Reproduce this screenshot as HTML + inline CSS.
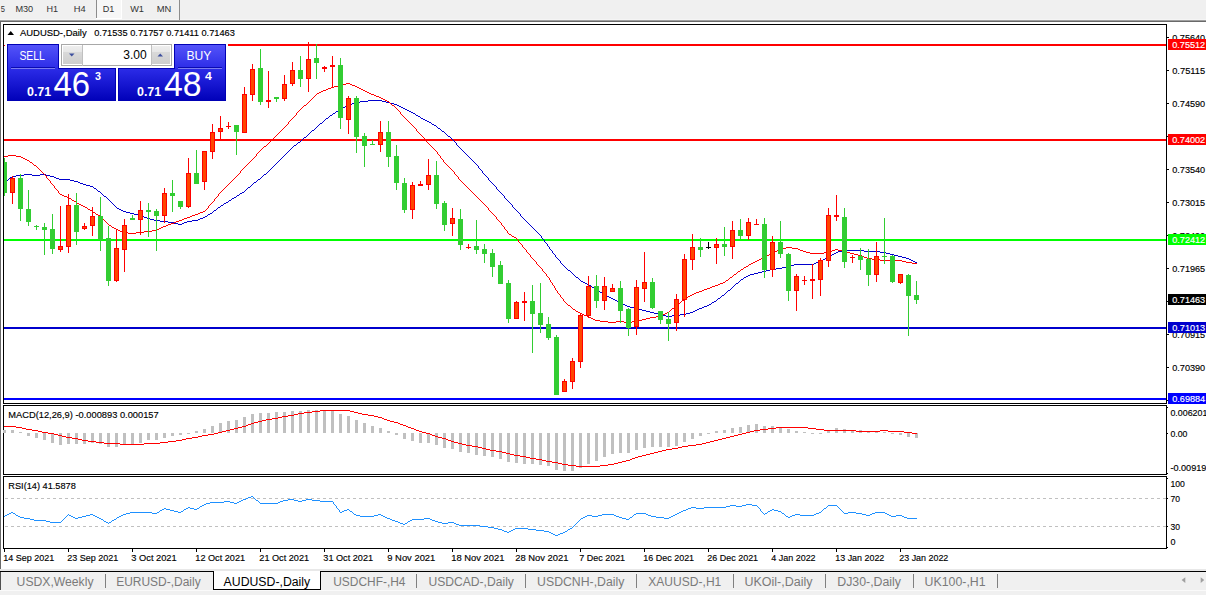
<!DOCTYPE html>
<html><head><meta charset="utf-8"><title>AUDUSD-,Daily</title>
<style>html,body{margin:0;padding:0;background:#fff;overflow:hidden}body{width:1206px;height:595px;font-family:"Liberation Sans",sans-serif}svg text{font-family:"Liberation Sans",sans-serif}</style></head>
<body>
<svg width="1206" height="595" viewBox="0 0 1206 595" font-family="'Liberation Sans', sans-serif" style="display:block"><rect x="0" y="0" width="1206" height="595" fill="#fff"/>
<rect x="0" y="0" width="1206" height="19" fill="#f0f0f0"/>
<rect x="0" y="19" width="1206" height="1" fill="#f5f5f5"/>
<rect x="0" y="20" width="1206" height="1" fill="#a0a0a0"/>
<rect x="0" y="21" width="1206" height="1" fill="#696969"/>
<rect x="0" y="21" width="1" height="548" fill="#696969"/>
<rect x="96" y="0" width="1" height="18" fill="#8c8c8c"/>
<rect x="97" y="0" width="24" height="18" fill="#f7f7f7"/>
<rect x="96" y="18" width="26" height="1" fill="#fff"/>
<rect x="121" y="0" width="1" height="18" fill="#fff"/>
<rect x="179" y="0" width="1" height="20" fill="#8c8c8c"/>
<text x="0.8" y="12" font-size="9.4" fill="#333" textLength="4.2" lengthAdjust="spacingAndGlyphs">5</text>
<text x="15.4" y="12" font-size="9.4" fill="#333" textLength="17.8" lengthAdjust="spacingAndGlyphs">M30</text>
<text x="46.4" y="12" font-size="9.4" fill="#333" textLength="11.6" lengthAdjust="spacingAndGlyphs">H1</text>
<text x="73.8" y="12" font-size="9.4" fill="#333" textLength="11.9" lengthAdjust="spacingAndGlyphs">H4</text>
<text x="102.8" y="12" font-size="9.4" fill="#333" textLength="11.6" lengthAdjust="spacingAndGlyphs">D1</text>
<text x="130.2" y="12" font-size="9.4" fill="#333" textLength="13.8" lengthAdjust="spacingAndGlyphs">W1</text>
<text x="156.7" y="12" font-size="9.4" fill="#333" textLength="14.6" lengthAdjust="spacingAndGlyphs">MN</text>
<defs><clipPath id="cc"><rect x="4" y="25" width="1162" height="378"/></clipPath></defs>
<g shape-rendering="crispEdges">
<rect x="4" y="44" width="1162" height="2" fill="#ff0000"/>
<rect x="4" y="139" width="1162" height="2" fill="#ff0000"/>
<rect x="4" y="239" width="1162" height="2" fill="#00ff00"/>
<rect x="4" y="327" width="1162" height="2" fill="#0000cd"/>
<rect x="4" y="398" width="1162" height="2" fill="#0000ff"/>
</g>
<path d="M4 182h1v1h-1zM5 181h1v1h-1zM6 180h2v1h-2zM8 179h1v1h-1zM9 178h1v1h-1zM10 177h2v1h-2zM12 176h4v1h-4zM16 175h8v1h-8zM24 174h8v1h-8zM32 175h8v1h-8zM40 174h6v1h-6zM46 175h4v1h-4zM50 176h4v1h-4zM54 177h2v1h-2zM56 178h3v1h-3zM59 179h11v1h-11zM70 180h4v1h-4zM74 181h4v1h-4zM78 182h2v1h-2zM80 183h3v1h-3zM83 184h3v1h-3zM86 185h4v1h-4zM90 186h3v1h-3zM93 187h1v1h-1zM94 188h2v1h-2zM96 189h1v1h-1zM97 190h1v1h-1zM98 191h2v1h-2zM100 192h1v1h-1zM101 193h1v1h-1zM102 194h1v1h-1zM103 195h1v1h-1zM104 196h2v1h-2zM106 197h1v1h-1zM107 198h1v1h-1zM108 199h1v1h-1zM109 200h1v1h-1zM110 201h1v1h-1zM111 202h1v1h-1zM112 203h1v1h-1zM113 204h1v1h-1zM114 205h1v1h-1zM115 206h1v1h-1zM116 207h1v1h-1zM117 208h2v1h-2zM119 209h2v1h-2zM121 210h2v1h-2zM123 211h3v1h-3zM126 212h4v1h-4zM130 213h4v1h-4zM134 214h4v1h-4zM138 215h4v1h-4zM142 216h2v1h-2zM144 217h3v1h-3zM147 218h3v1h-3zM150 219h4v1h-4zM154 220h6v1h-6zM160 221h8v1h-8zM168 222h6v1h-6zM174 223h4v1h-4zM178 224h4v1h-4zM182 223h2v1h-2zM184 222h3v1h-3zM187 221h5v1h-5zM192 220h6v1h-6zM198 219h2v1h-2zM200 218h3v1h-3zM203 217h2v1h-2zM205 216h2v1h-2zM207 215h1v1h-1zM208 214h2v1h-2zM210 213h2v1h-2zM212 212h1v1h-1zM213 211h1v1h-1zM214 210h2v1h-2zM216 209h1v1h-1zM217 208h1v1h-1zM218 207h2v1h-2zM220 206h1v1h-1zM221 205h2v1h-2zM223 204h1v1h-1zM224 203h2v1h-2zM226 202h2v1h-2zM228 201h1v1h-1zM229 200h2v1h-2zM231 199h1v1h-1zM232 198h2v1h-2zM234 197h2v1h-2zM236 196h1v1h-1zM237 195h2v1h-2zM239 194h1v1h-1zM240 193h2v1h-2zM242 192h2v1h-2zM244 191h1v1h-1zM245 190h1v1h-1zM246 189h1v1h-1zM247 188h1v1h-1zM248 187h2v1h-2zM250 186h1v1h-1zM251 185h1v1h-1zM252 184h1v1h-1zM253 183h1v1h-1zM254 182h2v1h-2zM256 181h1v1h-1zM257 180h1v1h-1zM258 179h2v1h-2zM260 178h1v1h-1zM261 177h1v1h-1zM262 176h1v1h-1zM263 175h1v1h-1zM264 174h2v1h-2zM266 173h1v1h-1zM267 172h1v1h-1zM268 171h1v1h-1zM269 170h1v1h-1zM270 169h1v1h-1zM271 168h1v1h-1zM272 167h1v1h-1zM273 166h1v1h-1zM274 165h1v1h-1zM275 164h1v1h-1zM276 163h1v1h-1zM277 162h1v1h-1zM278 161h1v1h-1zM279 160h1v1h-1zM280 159h1v1h-1zM281 158h1v1h-1zM282 157h1v1h-1zM283 156h1v1h-1zM284 155h1v1h-1zM285 154h1v1h-1zM286 153h1v1h-1zM287 152h1v1h-1zM288 151h1v1h-1zM289 150h1v1h-1zM290 149h1v1h-1zM291 148h1v1h-1zM292 147h1v1h-1zM293 146h1v1h-1zM294 145h2v1h-2zM296 144h1v1h-1zM297 143h1v1h-1zM298 142h2v1h-2zM300 141h1v1h-1zM301 140h1v1h-1zM302 139h1v1h-1zM303 138h1v1h-1zM304 137h2v1h-2zM306 136h1v1h-1zM307 135h1v1h-1zM308 134h1v1h-1zM309 133h1v1h-1zM310 132h1v1h-1zM311 131h1v1h-1zM312 130h2v1h-2zM314 129h1v1h-1zM315 128h1v1h-1zM316 127h1v1h-1zM317 126h1v1h-1zM318 125h1v1h-1zM319 124h1v1h-1zM320 123h2v1h-2zM322 122h1v1h-1zM323 121h1v1h-1zM324 120h1v1h-1zM325 119h1v1h-1zM326 118h2v1h-2zM328 117h1v1h-1zM329 116h1v1h-1zM330 115h2v1h-2zM332 114h1v1h-1zM333 113h2v1h-2zM335 112h1v1h-1zM336 111h2v1h-2zM338 110h2v1h-2zM340 109h1v1h-1zM341 108h2v1h-2zM343 107h2v1h-2zM345 106h2v1h-2zM347 105h3v1h-3zM350 104h2v1h-2zM352 103h3v1h-3zM355 102h5v1h-5zM360 101h8v1h-8zM368 100h14v1h-14zM382 101h4v1h-4zM386 102h4v1h-4zM390 103h4v1h-4zM394 104h3v1h-3zM397 105h2v1h-2zM399 106h2v1h-2zM401 107h2v1h-2zM403 108h2v1h-2zM405 109h2v1h-2zM407 110h2v1h-2zM409 111h2v1h-2zM411 112h2v1h-2zM413 113h2v1h-2zM415 114h1v1h-1zM416 115h2v1h-2zM418 116h2v1h-2zM420 117h1v1h-1zM421 118h2v1h-2zM423 119h2v1h-2zM425 120h2v1h-2zM427 121h2v1h-2zM429 122h2v1h-2zM431 123h1v1h-1zM432 124h2v1h-2zM434 125h2v1h-2zM436 126h1v1h-1zM437 127h1v1h-1zM438 128h2v1h-2zM440 129h1v1h-1zM441 130h1v1h-1zM442 131h2v1h-2zM444 132h1v1h-1zM445 133h1v1h-1zM446 134h1v1h-1zM447 135h1v1h-1zM448 136h2v1h-2zM450 137h1v1h-1zM451 138h1v1h-1zM452 139h1v1h-1zM453 140h1v1h-1zM454 141h1v1h-1zM455 142h1v1h-1zM456 143h1v2h-1zM457 145h1v1h-1zM458 146h1v1h-1zM459 147h1v1h-1zM460 148h1v1h-1zM461 149h1v1h-1zM462 150h1v1h-1zM463 151h1v1h-1zM464 152h1v1h-1zM465 153h1v1h-1zM466 154h1v1h-1zM467 155h1v1h-1zM468 156h1v1h-1zM469 157h1v1h-1zM470 158h1v1h-1zM471 159h1v1h-1zM472 160h1v1h-1zM473 161h1v1h-1zM474 162h1v1h-1zM475 163h1v1h-1zM476 164h1v1h-1zM477 165h1v1h-1zM478 166h1v2h-1zM479 168h1v1h-1zM480 169h1v1h-1zM481 170h1v1h-1zM482 171h1v2h-1zM483 173h1v1h-1zM484 174h1v1h-1zM485 175h1v1h-1zM486 176h1v1h-1zM487 177h1v1h-1zM488 178h1v2h-1zM489 180h1v1h-1zM490 181h1v1h-1zM491 182h1v1h-1zM492 183h1v1h-1zM493 184h1v1h-1zM494 185h1v1h-1zM495 186h1v1h-1zM496 187h1v2h-1zM497 189h1v1h-1zM498 190h1v1h-1zM499 191h1v1h-1zM500 192h1v1h-1zM501 193h1v1h-1zM502 194h1v1h-1zM503 195h1v1h-1zM504 196h1v2h-1zM505 198h1v1h-1zM506 199h1v1h-1zM507 200h1v1h-1zM508 201h1v1h-1zM509 202h1v1h-1zM510 203h1v1h-1zM511 204h1v1h-1zM512 205h1v2h-1zM513 207h1v1h-1zM514 208h1v1h-1zM515 209h1v1h-1zM516 210h1v1h-1zM517 211h1v1h-1zM518 212h1v1h-1zM519 213h1v1h-1zM520 214h1v2h-1zM521 216h1v1h-1zM522 217h1v1h-1zM523 218h1v1h-1zM524 219h1v1h-1zM525 220h1v1h-1zM526 221h1v1h-1zM527 222h1v1h-1zM528 223h1v1h-1zM529 224h1v1h-1zM530 225h1v1h-1zM531 226h1v1h-1zM532 227h1v1h-1zM533 228h1v1h-1zM534 229h1v1h-1zM535 230h1v1h-1zM536 231h1v1h-1zM537 232h1v1h-1zM538 233h1v1h-1zM539 234h1v1h-1zM540 235h1v1h-1zM541 236h1v2h-1zM542 238h1v1h-1zM543 239h1v1h-1zM544 240h1v2h-1zM545 242h1v1h-1zM546 243h1v1h-1zM547 244h1v2h-1zM548 246h1v1h-1zM549 247h1v2h-1zM550 249h1v1h-1zM551 250h1v1h-1zM552 251h1v2h-1zM553 253h1v1h-1zM554 254h1v1h-1zM555 255h1v2h-1zM556 257h1v1h-1zM557 258h1v1h-1zM558 259h1v1h-1zM559 260h1v1h-1zM560 261h1v2h-1zM561 263h1v1h-1zM562 264h1v1h-1zM563 265h1v1h-1zM564 266h1v1h-1zM565 267h1v1h-1zM566 268h1v1h-1zM567 269h1v1h-1zM568 270h2v1h-2zM570 271h1v1h-1zM571 272h1v1h-1zM572 273h1v1h-1zM573 274h1v1h-1zM574 275h1v1h-1zM575 276h1v1h-1zM576 277h2v1h-2zM578 278h1v1h-1zM579 279h1v1h-1zM580 280h1v1h-1zM581 281h2v1h-2zM583 282h2v1h-2zM585 283h2v1h-2zM587 284h2v1h-2zM589 285h2v1h-2zM591 286h1v1h-1zM592 287h2v1h-2zM594 288h2v1h-2zM596 289h1v1h-1zM597 290h2v1h-2zM599 291h1v1h-1zM600 292h2v1h-2zM602 293h2v1h-2zM604 294h1v1h-1zM605 295h2v1h-2zM607 296h2v1h-2zM609 297h2v1h-2zM611 298h2v1h-2zM613 299h2v1h-2zM615 300h2v1h-2zM617 301h2v1h-2zM619 302h2v1h-2zM621 303h2v1h-2zM623 304h2v1h-2zM625 305h2v1h-2zM627 306h3v1h-3zM630 307h4v1h-4zM634 308h4v1h-4zM638 309h4v1h-4zM642 310h4v1h-4zM646 311h4v1h-4zM650 312h4v1h-4zM654 313h4v1h-4zM658 314h4v1h-4zM662 315h4v1h-4zM666 316h6v1h-6zM672 315h8v1h-8zM680 314h6v1h-6zM686 313h4v1h-4zM690 312h3v1h-3zM693 311h2v1h-2zM695 310h2v1h-2zM697 309h2v1h-2zM699 308h3v1h-3zM702 307h2v1h-2zM704 306h3v1h-3zM707 305h2v1h-2zM709 304h2v1h-2zM711 303h1v1h-1zM712 302h2v1h-2zM714 301h2v1h-2zM716 300h1v1h-1zM717 299h1v1h-1zM718 298h2v1h-2zM720 297h1v1h-1zM721 296h1v1h-1zM722 295h2v1h-2zM724 294h1v1h-1zM725 293h1v1h-1zM726 292h1v1h-1zM727 291h1v1h-1zM728 290h2v1h-2zM730 289h1v1h-1zM731 288h1v1h-1zM732 287h1v1h-1zM733 286h1v1h-1zM734 285h1v1h-1zM735 284h1v1h-1zM736 283h2v1h-2zM738 282h1v1h-1zM739 281h1v1h-1zM740 280h1v1h-1zM741 279h2v1h-2zM743 278h1v1h-1zM744 277h2v1h-2zM746 276h2v1h-2zM748 275h2v1h-2zM750 274h4v1h-4zM754 273h4v1h-4zM758 272h4v1h-4zM762 271h4v1h-4zM766 270h4v1h-4zM770 269h6v1h-6zM776 268h6v1h-6zM782 267h4v1h-4zM786 266h4v1h-4zM790 265h4v1h-4zM794 264h20v1h-20zM814 263h2v1h-2zM816 262h3v1h-3zM819 261h2v1h-2zM821 260h2v1h-2zM823 259h2v1h-2zM825 258h2v1h-2zM827 257h2v1h-2zM829 256h2v1h-2zM831 255h1v1h-1zM832 254h2v1h-2zM834 253h2v1h-2zM836 252h2v1h-2zM838 251h4v1h-4zM842 250h22v1h-22zM864 251h16v1h-16zM880 252h6v1h-6zM886 253h4v1h-4zM890 254h4v1h-4zM894 255h4v1h-4zM898 256h4v1h-4zM902 257h4v1h-4zM906 258h3v1h-3zM909 259h2v1h-2zM911 260h2v1h-2zM913 261h2v1h-2zM915 262h2v1h-2z" fill="#0000cd" shape-rendering="crispEdges"/>
<path d="M4 156h4v1h-4zM8 155h8v1h-8zM16 156h5v1h-5zM21 157h2v1h-2zM23 158h2v1h-2zM25 159h2v1h-2zM27 160h2v1h-2zM29 161h1v1h-1zM30 162h2v1h-2zM32 163h1v1h-1zM33 164h1v1h-1zM34 165h2v1h-2zM36 166h1v1h-1zM37 167h1v1h-1zM38 168h1v1h-1zM39 169h1v1h-1zM40 170h1v1h-1zM41 171h1v1h-1zM42 172h1v1h-1zM43 173h1v1h-1zM44 174h1v1h-1zM45 175h1v1h-1zM46 176h1v2h-1zM47 178h1v1h-1zM48 179h1v1h-1zM49 180h1v1h-1zM50 181h1v2h-1zM51 183h1v1h-1zM52 184h1v1h-1zM53 185h1v1h-1zM54 186h1v2h-1zM55 188h1v1h-1zM56 189h1v1h-1zM57 190h1v1h-1zM58 191h1v2h-1zM59 193h1v1h-1zM60 194h2v1h-2zM62 195h2v1h-2zM64 196h3v1h-3zM67 197h2v1h-2zM69 198h2v1h-2zM71 199h1v1h-1zM72 200h2v1h-2zM74 201h2v1h-2zM76 202h1v1h-1zM77 203h2v1h-2zM79 204h2v1h-2zM81 205h2v1h-2zM83 206h2v1h-2zM85 207h2v1h-2zM87 208h1v1h-1zM88 209h2v1h-2zM90 210h2v1h-2zM92 211h1v1h-1zM93 212h2v1h-2zM95 213h1v1h-1zM96 214h2v1h-2zM98 215h2v1h-2zM100 216h1v1h-1zM101 217h1v1h-1zM102 218h1v1h-1zM103 219h1v1h-1zM104 220h1v1h-1zM105 221h1v1h-1zM106 222h1v1h-1zM107 223h1v1h-1zM108 224h1v1h-1zM109 225h2v1h-2zM111 226h1v1h-1zM112 227h2v1h-2zM114 228h2v1h-2zM116 229h2v1h-2zM118 230h2v1h-2zM120 231h3v1h-3zM123 232h5v1h-5zM128 233h8v1h-8zM136 232h8v1h-8zM144 231h8v1h-8zM152 230h5v1h-5zM157 229h2v1h-2zM159 228h2v1h-2zM161 227h2v1h-2zM163 226h3v1h-3zM166 225h2v1h-2zM168 224h3v1h-3zM171 223h3v1h-3zM174 222h2v1h-2zM176 221h3v1h-3zM179 220h3v1h-3zM182 219h2v1h-2zM184 218h3v1h-3zM187 217h3v1h-3zM190 216h2v1h-2zM192 215h3v1h-3zM195 214h3v1h-3zM198 213h2v1h-2zM200 212h3v1h-3zM203 211h2v1h-2zM205 210h1v1h-1zM206 209h1v1h-1zM207 208h1v1h-1zM208 206h1v2h-1zM209 205h1v1h-1zM210 204h1v1h-1zM211 203h1v1h-1zM212 202h1v1h-1zM213 201h1v1h-1zM214 199h1v2h-1zM215 198h1v1h-1zM216 197h1v1h-1zM217 196h1v1h-1zM218 194h1v2h-1zM219 193h1v1h-1zM220 192h1v1h-1zM221 191h1v1h-1zM222 190h1v1h-1zM223 189h1v1h-1zM224 188h1v1h-1zM225 187h1v1h-1zM226 186h1v1h-1zM227 185h1v1h-1zM228 184h1v1h-1zM229 183h1v1h-1zM230 182h1v1h-1zM231 181h1v1h-1zM232 180h1v1h-1zM233 179h1v1h-1zM234 178h1v1h-1zM235 177h1v1h-1zM236 176h1v1h-1zM237 175h1v1h-1zM238 174h1v1h-1zM239 173h1v1h-1zM240 171h1v2h-1zM241 170h1v1h-1zM242 169h1v1h-1zM243 168h1v1h-1zM244 167h1v1h-1zM245 166h1v1h-1zM246 165h1v1h-1zM247 164h1v1h-1zM248 163h1v1h-1zM249 162h1v1h-1zM250 161h1v1h-1zM251 160h1v1h-1zM252 159h1v1h-1zM253 158h1v1h-1zM254 157h1v1h-1zM255 156h1v1h-1zM256 154h1v2h-1zM257 153h1v1h-1zM258 152h1v1h-1zM259 151h1v1h-1zM260 150h1v1h-1zM261 149h1v1h-1zM262 148h1v1h-1zM263 147h1v1h-1zM264 146h2v1h-2zM266 145h1v1h-1zM267 144h1v1h-1zM268 143h1v1h-1zM269 142h1v1h-1zM270 141h1v1h-1zM271 140h1v1h-1zM272 139h1v1h-1zM273 138h1v1h-1zM274 137h1v1h-1zM275 136h1v1h-1zM276 135h1v1h-1zM277 134h1v1h-1zM278 133h1v1h-1zM279 132h1v1h-1zM280 131h1v1h-1zM281 130h1v1h-1zM282 129h1v1h-1zM283 128h1v1h-1zM284 127h1v1h-1zM285 126h1v1h-1zM286 125h1v1h-1zM287 124h1v1h-1zM288 122h1v2h-1zM289 121h1v1h-1zM290 120h1v1h-1zM291 119h1v1h-1zM292 118h1v1h-1zM293 117h1v1h-1zM294 116h1v1h-1zM295 115h1v1h-1zM296 113h1v2h-1zM297 112h1v1h-1zM298 111h1v1h-1zM299 110h1v1h-1zM300 109h1v1h-1zM301 108h1v1h-1zM302 107h1v1h-1zM303 106h1v1h-1zM304 105h2v1h-2zM306 104h1v1h-1zM307 103h1v1h-1zM308 102h1v1h-1zM309 101h1v1h-1zM310 100h1v1h-1zM311 99h1v1h-1zM312 98h1v1h-1zM313 97h1v1h-1zM314 96h1v1h-1zM315 95h1v1h-1zM316 94h1v1h-1zM317 93h2v1h-2zM319 92h2v1h-2zM321 91h2v1h-2zM323 90h3v1h-3zM326 89h2v1h-2zM328 88h3v1h-3zM331 87h3v1h-3zM334 86h4v1h-4zM338 85h4v1h-4zM342 84h4v1h-4zM346 83h4v1h-4zM350 84h2v1h-2zM352 85h3v1h-3zM355 86h2v1h-2zM357 87h2v1h-2zM359 88h2v1h-2zM361 89h2v1h-2zM363 90h2v1h-2zM365 91h2v1h-2zM367 92h2v1h-2zM369 93h2v1h-2zM371 94h3v1h-3zM374 95h2v1h-2zM376 96h3v1h-3zM379 97h2v1h-2zM381 98h2v1h-2zM383 99h2v1h-2zM385 100h2v1h-2zM387 101h2v1h-2zM389 102h1v1h-1zM390 103h1v1h-1zM391 104h1v1h-1zM392 105h2v1h-2zM394 106h1v1h-1zM395 107h1v1h-1zM396 108h1v1h-1zM397 109h1v1h-1zM398 110h1v1h-1zM399 111h1v1h-1zM400 112h1v2h-1zM401 114h1v1h-1zM402 115h1v1h-1zM403 116h1v1h-1zM404 117h1v1h-1zM405 118h1v1h-1zM406 119h1v1h-1zM407 120h1v1h-1zM408 121h1v1h-1zM409 122h1v1h-1zM410 123h1v1h-1zM411 124h1v1h-1zM412 125h1v1h-1zM413 126h1v1h-1zM414 127h1v1h-1zM415 128h1v1h-1zM416 129h1v2h-1zM417 131h1v1h-1zM418 132h1v1h-1zM419 133h1v1h-1zM420 134h1v1h-1zM421 135h1v1h-1zM422 136h1v1h-1zM423 137h1v1h-1zM424 138h1v2h-1zM425 140h1v1h-1zM426 141h1v1h-1zM427 142h1v1h-1zM428 143h1v1h-1zM429 144h1v1h-1zM430 145h1v1h-1zM431 146h1v1h-1zM432 147h1v1h-1zM433 148h1v1h-1zM434 149h1v1h-1zM435 150h1v1h-1zM436 151h1v1h-1zM437 152h1v2h-1zM438 154h1v1h-1zM439 155h1v1h-1zM440 156h1v2h-1zM441 158h1v1h-1zM442 159h1v1h-1zM443 160h1v2h-1zM444 162h1v1h-1zM445 163h1v1h-1zM446 164h1v1h-1zM447 165h1v1h-1zM448 166h1v1h-1zM449 167h1v1h-1zM450 168h1v1h-1zM451 169h1v1h-1zM452 170h1v1h-1zM453 171h1v1h-1zM454 172h1v2h-1zM455 174h1v1h-1zM456 175h1v1h-1zM457 176h1v1h-1zM458 177h1v2h-1zM459 179h1v1h-1zM460 180h1v1h-1zM461 181h1v1h-1zM462 182h1v1h-1zM463 183h1v1h-1zM464 184h1v1h-1zM465 185h1v1h-1zM466 186h1v1h-1zM467 187h1v1h-1zM468 188h1v1h-1zM469 189h1v1h-1zM470 190h1v1h-1zM471 191h1v1h-1zM472 192h1v1h-1zM473 193h1v1h-1zM474 194h1v1h-1zM475 195h1v1h-1zM476 196h1v1h-1zM477 197h1v1h-1zM478 198h1v1h-1zM479 199h1v1h-1zM480 200h1v1h-1zM481 201h1v1h-1zM482 202h1v1h-1zM483 203h1v1h-1zM484 204h1v1h-1zM485 205h1v1h-1zM486 206h1v1h-1zM487 207h1v1h-1zM488 208h1v2h-1zM489 210h1v1h-1zM490 211h1v1h-1zM491 212h1v1h-1zM492 213h1v1h-1zM493 214h1v1h-1zM494 215h1v1h-1zM495 216h1v1h-1zM496 217h1v2h-1zM497 219h1v1h-1zM498 220h1v1h-1zM499 221h1v1h-1zM500 222h1v1h-1zM501 223h1v2h-1zM502 225h1v1h-1zM503 226h1v1h-1zM504 227h1v2h-1zM505 229h1v1h-1zM506 230h1v1h-1zM507 231h1v2h-1zM508 233h1v1h-1zM509 234h2v1h-2zM511 235h1v1h-1zM512 236h2v1h-2zM514 237h2v1h-2zM516 238h1v1h-1zM517 239h1v1h-1zM518 240h1v2h-1zM519 242h1v1h-1zM520 243h1v1h-1zM521 244h1v1h-1zM522 245h1v2h-1zM523 247h1v1h-1zM524 248h1v1h-1zM525 249h1v1h-1zM526 250h1v2h-1zM527 252h1v1h-1zM528 253h1v1h-1zM529 254h1v1h-1zM530 255h1v2h-1zM531 257h1v1h-1zM532 258h1v1h-1zM533 259h1v1h-1zM534 260h1v1h-1zM535 261h1v1h-1zM536 262h1v2h-1zM537 264h1v1h-1zM538 265h1v1h-1zM539 266h1v1h-1zM540 267h1v1h-1zM541 268h1v1h-1zM542 269h1v2h-1zM543 271h1v1h-1zM544 272h1v1h-1zM545 273h1v1h-1zM546 274h1v2h-1zM547 276h1v1h-1zM548 277h1v1h-1zM549 278h1v2h-1zM550 280h1v2h-1zM551 282h1v1h-1zM552 283h1v2h-1zM553 285h1v1h-1zM554 286h1v2h-1zM555 288h1v2h-1zM556 290h1v1h-1zM557 291h1v2h-1zM558 293h1v1h-1zM559 294h1v1h-1zM560 295h1v2h-1zM561 297h1v1h-1zM562 298h1v1h-1zM563 299h1v2h-1zM564 301h1v1h-1zM565 302h1v1h-1zM566 303h1v1h-1zM567 304h1v1h-1zM568 305h2v1h-2zM570 306h1v1h-1zM571 307h1v1h-1zM572 308h1v1h-1zM573 309h2v1h-2zM575 310h1v1h-1zM576 311h2v1h-2zM578 312h2v1h-2zM580 313h2v1h-2zM582 314h2v1h-2zM584 315h3v1h-3zM587 316h2v1h-2zM589 317h2v1h-2zM591 318h2v1h-2zM593 319h2v1h-2zM595 320h5v1h-5zM600 321h8v1h-8zM608 322h8v1h-8zM616 321h8v1h-8zM624 322h8v1h-8zM632 321h6v1h-6zM638 320h4v1h-4zM642 319h4v1h-4zM646 318h4v1h-4zM650 317h6v1h-6zM656 316h5v1h-5zM661 315h2v1h-2zM663 314h2v1h-2zM665 313h2v1h-2zM667 312h2v1h-2zM669 311h1v1h-1zM670 310h1v1h-1zM671 309h1v1h-1zM672 308h2v1h-2zM674 307h1v1h-1zM675 306h1v1h-1zM676 305h1v1h-1zM677 304h1v1h-1zM678 303h2v1h-2zM680 302h1v1h-1zM681 301h1v1h-1zM682 300h2v1h-2zM684 299h1v1h-1zM685 298h2v1h-2zM687 297h1v1h-1zM688 296h2v1h-2zM690 295h2v1h-2zM692 294h2v1h-2zM694 293h2v1h-2zM696 292h3v1h-3zM699 291h3v1h-3zM702 290h2v1h-2zM704 289h3v1h-3zM707 288h3v1h-3zM710 287h2v1h-2zM712 286h3v1h-3zM715 285h3v1h-3zM718 284h2v1h-2zM720 283h3v1h-3zM723 282h2v1h-2zM725 281h1v1h-1zM726 280h2v1h-2zM728 279h1v1h-1zM729 278h1v1h-1zM730 277h2v1h-2zM732 276h1v1h-1zM733 275h1v1h-1zM734 274h2v1h-2zM736 273h1v1h-1zM737 272h1v1h-1zM738 271h2v1h-2zM740 270h1v1h-1zM741 269h2v1h-2zM743 268h1v1h-1zM744 267h2v1h-2zM746 266h2v1h-2zM748 265h1v1h-1zM749 264h2v1h-2zM751 263h2v1h-2zM753 262h2v1h-2zM755 261h2v1h-2zM757 260h2v1h-2zM759 259h2v1h-2zM761 258h2v1h-2zM763 257h2v1h-2zM765 256h2v1h-2zM767 255h2v1h-2zM769 254h2v1h-2zM771 253h2v1h-2zM773 252h2v1h-2zM775 251h2v1h-2zM777 250h2v1h-2zM779 249h3v1h-3zM782 248h4v1h-4zM786 247h6v1h-6zM792 248h6v1h-6zM798 249h2v1h-2zM800 250h3v1h-3zM803 251h3v1h-3zM806 252h4v1h-4zM810 253h14v1h-14zM824 252h6v1h-6zM830 251h2v1h-2zM832 250h3v1h-3zM835 249h3v1h-3zM838 250h4v1h-4zM842 251h4v1h-4zM846 252h4v1h-4zM850 253h4v1h-4zM854 254h4v1h-4zM858 255h4v1h-4zM862 256h2v1h-2zM864 257h3v1h-3zM867 258h5v1h-5zM872 259h8v1h-8zM880 260h22v1h-22zM902 261h4v1h-4zM906 262h6v1h-6zM912 263h5v1h-5z" fill="#ff0000" shape-rendering="crispEdges"/>
<g shape-rendering="crispEdges" clip-path="url(#cc)">
<rect x="4" y="158" width="1" height="38" fill="#32cd32"/>
<rect x="2" y="162" width="5" height="31" fill="#32cd32"/>
<rect x="12" y="176" width="1" height="28" fill="#ff0000"/>
<rect x="10" y="178" width="5" height="15" fill="#ff0000"/>
<rect x="11" y="179" width="3" height="13" fill="#ff4500"/>
<rect x="20" y="174" width="1" height="47" fill="#32cd32"/>
<rect x="18" y="178" width="5" height="31" fill="#32cd32"/>
<rect x="28" y="190" width="1" height="36" fill="#32cd32"/>
<rect x="26" y="209" width="5" height="13" fill="#32cd32"/>
<rect x="36" y="225" width="1" height="5" fill="#32cd32"/>
<rect x="34" y="226" width="5" height="1" fill="#32cd32"/>
<rect x="44" y="223" width="1" height="32" fill="#32cd32"/>
<rect x="42" y="227" width="5" height="3" fill="#32cd32"/>
<rect x="52" y="214" width="1" height="40" fill="#32cd32"/>
<rect x="50" y="229" width="5" height="20" fill="#32cd32"/>
<rect x="60" y="206" width="1" height="46" fill="#ff0000"/>
<rect x="58" y="246" width="5" height="4" fill="#ff0000"/>
<rect x="59" y="247" width="3" height="2" fill="#ff4500"/>
<rect x="68" y="194" width="1" height="59" fill="#ff0000"/>
<rect x="66" y="205" width="5" height="42" fill="#ff0000"/>
<rect x="67" y="206" width="3" height="40" fill="#ff4500"/>
<rect x="76" y="193" width="1" height="52" fill="#32cd32"/>
<rect x="74" y="205" width="5" height="27" fill="#32cd32"/>
<rect x="84" y="223" width="1" height="7" fill="#ff0000"/>
<rect x="82" y="226" width="5" height="3" fill="#ff0000"/>
<rect x="83" y="227" width="3" height="1" fill="#ff4500"/>
<rect x="92" y="207" width="1" height="29" fill="#ff0000"/>
<rect x="90" y="216" width="5" height="10" fill="#ff0000"/>
<rect x="91" y="217" width="3" height="8" fill="#ff4500"/>
<rect x="100" y="197" width="1" height="54" fill="#32cd32"/>
<rect x="98" y="216" width="5" height="24" fill="#32cd32"/>
<rect x="108" y="226" width="1" height="60" fill="#32cd32"/>
<rect x="106" y="238" width="5" height="43" fill="#32cd32"/>
<rect x="116" y="230" width="1" height="52" fill="#ff0000"/>
<rect x="114" y="248" width="5" height="33" fill="#ff0000"/>
<rect x="115" y="249" width="3" height="31" fill="#ff4500"/>
<rect x="124" y="219" width="1" height="53" fill="#ff0000"/>
<rect x="122" y="225" width="5" height="25" fill="#ff0000"/>
<rect x="123" y="226" width="3" height="23" fill="#ff4500"/>
<rect x="132" y="215" width="1" height="5" fill="#32cd32"/>
<rect x="130" y="218" width="5" height="2" fill="#32cd32"/>
<rect x="140" y="201" width="1" height="34" fill="#ff0000"/>
<rect x="138" y="210" width="5" height="10" fill="#ff0000"/>
<rect x="139" y="211" width="3" height="8" fill="#ff4500"/>
<rect x="148" y="203" width="1" height="34" fill="#32cd32"/>
<rect x="146" y="210" width="5" height="2" fill="#32cd32"/>
<rect x="156" y="209" width="1" height="42" fill="#32cd32"/>
<rect x="154" y="211" width="5" height="5" fill="#32cd32"/>
<rect x="164" y="188" width="1" height="35" fill="#ff0000"/>
<rect x="162" y="193" width="5" height="23" fill="#ff0000"/>
<rect x="163" y="194" width="3" height="21" fill="#ff4500"/>
<rect x="172" y="180" width="1" height="32" fill="#32cd32"/>
<rect x="170" y="193" width="5" height="3" fill="#32cd32"/>
<rect x="180" y="201" width="1" height="8" fill="#32cd32"/>
<rect x="178" y="201" width="5" height="6" fill="#32cd32"/>
<rect x="188" y="158" width="1" height="50" fill="#ff0000"/>
<rect x="186" y="173" width="5" height="34" fill="#ff0000"/>
<rect x="187" y="174" width="3" height="32" fill="#ff4500"/>
<rect x="196" y="150" width="1" height="34" fill="#32cd32"/>
<rect x="194" y="173" width="5" height="11" fill="#32cd32"/>
<rect x="204" y="151" width="1" height="39" fill="#ff0000"/>
<rect x="202" y="151" width="5" height="31" fill="#ff0000"/>
<rect x="203" y="152" width="3" height="29" fill="#ff4500"/>
<rect x="212" y="124" width="1" height="35" fill="#ff0000"/>
<rect x="210" y="132" width="5" height="20" fill="#ff0000"/>
<rect x="211" y="133" width="3" height="18" fill="#ff4500"/>
<rect x="220" y="116" width="1" height="24" fill="#ff0000"/>
<rect x="218" y="128" width="5" height="4" fill="#ff0000"/>
<rect x="219" y="129" width="3" height="2" fill="#ff4500"/>
<rect x="228" y="122" width="1" height="7" fill="#ff0000"/>
<rect x="226" y="126" width="5" height="1" fill="#ff0000"/>
<rect x="236" y="125" width="1" height="30" fill="#32cd32"/>
<rect x="234" y="125" width="5" height="7" fill="#32cd32"/>
<rect x="244" y="87" width="1" height="46" fill="#ff0000"/>
<rect x="242" y="94" width="5" height="39" fill="#ff0000"/>
<rect x="243" y="95" width="3" height="37" fill="#ff4500"/>
<rect x="252" y="64" width="1" height="37" fill="#ff0000"/>
<rect x="250" y="69" width="5" height="26" fill="#ff0000"/>
<rect x="251" y="70" width="3" height="24" fill="#ff4500"/>
<rect x="260" y="49" width="1" height="56" fill="#32cd32"/>
<rect x="258" y="68" width="5" height="34" fill="#32cd32"/>
<rect x="268" y="71" width="1" height="37" fill="#ff0000"/>
<rect x="266" y="100" width="5" height="2" fill="#ff0000"/>
<rect x="276" y="97" width="1" height="5" fill="#32cd32"/>
<rect x="274" y="97" width="5" height="2" fill="#32cd32"/>
<rect x="284" y="75" width="1" height="26" fill="#ff0000"/>
<rect x="282" y="84" width="5" height="15" fill="#ff0000"/>
<rect x="283" y="85" width="3" height="13" fill="#ff4500"/>
<rect x="292" y="62" width="1" height="24" fill="#ff0000"/>
<rect x="290" y="70" width="5" height="14" fill="#ff0000"/>
<rect x="291" y="71" width="3" height="12" fill="#ff4500"/>
<rect x="300" y="56" width="1" height="31" fill="#32cd32"/>
<rect x="298" y="70" width="5" height="9" fill="#32cd32"/>
<rect x="308" y="42" width="1" height="50" fill="#ff0000"/>
<rect x="306" y="59" width="5" height="20" fill="#ff0000"/>
<rect x="307" y="60" width="3" height="18" fill="#ff4500"/>
<rect x="316" y="44" width="1" height="35" fill="#32cd32"/>
<rect x="314" y="58" width="5" height="5" fill="#32cd32"/>
<rect x="324" y="66" width="1" height="6" fill="#ff0000"/>
<rect x="322" y="67" width="5" height="2" fill="#ff0000"/>
<rect x="332" y="56" width="1" height="31" fill="#ff0000"/>
<rect x="330" y="65" width="5" height="2" fill="#ff0000"/>
<rect x="340" y="58" width="1" height="71" fill="#32cd32"/>
<rect x="338" y="65" width="5" height="53" fill="#32cd32"/>
<rect x="348" y="96" width="1" height="38" fill="#ff0000"/>
<rect x="346" y="98" width="5" height="22" fill="#ff0000"/>
<rect x="347" y="99" width="3" height="20" fill="#ff4500"/>
<rect x="356" y="96" width="1" height="57" fill="#32cd32"/>
<rect x="354" y="98" width="5" height="39" fill="#32cd32"/>
<rect x="364" y="133" width="1" height="34" fill="#32cd32"/>
<rect x="362" y="136" width="5" height="10" fill="#32cd32"/>
<rect x="372" y="140" width="1" height="5" fill="#32cd32"/>
<rect x="370" y="144" width="5" height="1" fill="#32cd32"/>
<rect x="380" y="121" width="1" height="31" fill="#ff0000"/>
<rect x="378" y="132" width="5" height="13" fill="#ff0000"/>
<rect x="379" y="133" width="3" height="11" fill="#ff4500"/>
<rect x="388" y="121" width="1" height="46" fill="#32cd32"/>
<rect x="386" y="132" width="5" height="25" fill="#32cd32"/>
<rect x="396" y="145" width="1" height="45" fill="#32cd32"/>
<rect x="394" y="156" width="5" height="27" fill="#32cd32"/>
<rect x="404" y="178" width="1" height="35" fill="#32cd32"/>
<rect x="402" y="183" width="5" height="27" fill="#32cd32"/>
<rect x="412" y="182" width="1" height="37" fill="#ff0000"/>
<rect x="410" y="185" width="5" height="25" fill="#ff0000"/>
<rect x="411" y="186" width="3" height="23" fill="#ff4500"/>
<rect x="420" y="181" width="1" height="5" fill="#ff0000"/>
<rect x="418" y="184" width="5" height="2" fill="#ff0000"/>
<rect x="428" y="159" width="1" height="31" fill="#ff0000"/>
<rect x="426" y="175" width="5" height="10" fill="#ff0000"/>
<rect x="427" y="176" width="3" height="8" fill="#ff4500"/>
<rect x="436" y="161" width="1" height="48" fill="#32cd32"/>
<rect x="434" y="175" width="5" height="29" fill="#32cd32"/>
<rect x="444" y="201" width="1" height="30" fill="#32cd32"/>
<rect x="442" y="203" width="5" height="22" fill="#32cd32"/>
<rect x="452" y="208" width="1" height="28" fill="#ff0000"/>
<rect x="450" y="218" width="5" height="6" fill="#ff0000"/>
<rect x="451" y="219" width="3" height="4" fill="#ff4500"/>
<rect x="460" y="209" width="1" height="41" fill="#32cd32"/>
<rect x="458" y="219" width="5" height="26" fill="#32cd32"/>
<rect x="468" y="244" width="1" height="5" fill="#ff0000"/>
<rect x="466" y="247" width="5" height="1" fill="#ff0000"/>
<rect x="476" y="220" width="1" height="34" fill="#32cd32"/>
<rect x="474" y="246" width="5" height="4" fill="#32cd32"/>
<rect x="484" y="244" width="1" height="19" fill="#32cd32"/>
<rect x="482" y="249" width="5" height="5" fill="#32cd32"/>
<rect x="492" y="249" width="1" height="28" fill="#32cd32"/>
<rect x="490" y="253" width="5" height="14" fill="#32cd32"/>
<rect x="500" y="261" width="1" height="23" fill="#32cd32"/>
<rect x="498" y="265" width="5" height="19" fill="#32cd32"/>
<rect x="508" y="280" width="1" height="43" fill="#32cd32"/>
<rect x="506" y="283" width="5" height="36" fill="#32cd32"/>
<rect x="516" y="301" width="1" height="18" fill="#ff0000"/>
<rect x="514" y="302" width="5" height="17" fill="#ff0000"/>
<rect x="515" y="303" width="3" height="15" fill="#ff4500"/>
<rect x="524" y="292" width="1" height="29" fill="#ff0000"/>
<rect x="522" y="301" width="5" height="2" fill="#ff0000"/>
<rect x="532" y="285" width="1" height="68" fill="#32cd32"/>
<rect x="530" y="301" width="5" height="13" fill="#32cd32"/>
<rect x="540" y="283" width="1" height="50" fill="#32cd32"/>
<rect x="538" y="313" width="5" height="12" fill="#32cd32"/>
<rect x="548" y="317" width="1" height="23" fill="#32cd32"/>
<rect x="546" y="324" width="5" height="14" fill="#32cd32"/>
<rect x="556" y="335" width="1" height="60" fill="#32cd32"/>
<rect x="554" y="337" width="5" height="58" fill="#32cd32"/>
<rect x="564" y="379" width="1" height="13" fill="#ff0000"/>
<rect x="562" y="381" width="5" height="11" fill="#ff0000"/>
<rect x="563" y="382" width="3" height="9" fill="#ff4500"/>
<rect x="572" y="358" width="1" height="31" fill="#ff0000"/>
<rect x="570" y="361" width="5" height="21" fill="#ff0000"/>
<rect x="571" y="362" width="3" height="19" fill="#ff4500"/>
<rect x="580" y="314" width="1" height="54" fill="#ff0000"/>
<rect x="578" y="315" width="5" height="47" fill="#ff0000"/>
<rect x="579" y="316" width="3" height="45" fill="#ff4500"/>
<rect x="588" y="276" width="1" height="42" fill="#ff0000"/>
<rect x="586" y="286" width="5" height="30" fill="#ff0000"/>
<rect x="587" y="287" width="3" height="28" fill="#ff4500"/>
<rect x="596" y="275" width="1" height="33" fill="#32cd32"/>
<rect x="594" y="286" width="5" height="15" fill="#32cd32"/>
<rect x="604" y="277" width="1" height="33" fill="#ff0000"/>
<rect x="602" y="286" width="5" height="15" fill="#ff0000"/>
<rect x="603" y="287" width="3" height="13" fill="#ff4500"/>
<rect x="612" y="284" width="1" height="8" fill="#ff0000"/>
<rect x="610" y="288" width="5" height="4" fill="#ff0000"/>
<rect x="611" y="289" width="3" height="2" fill="#ff4500"/>
<rect x="620" y="281" width="1" height="42" fill="#32cd32"/>
<rect x="618" y="288" width="5" height="23" fill="#32cd32"/>
<rect x="628" y="308" width="1" height="28" fill="#32cd32"/>
<rect x="626" y="309" width="5" height="19" fill="#32cd32"/>
<rect x="636" y="280" width="1" height="55" fill="#ff0000"/>
<rect x="634" y="287" width="5" height="40" fill="#ff0000"/>
<rect x="635" y="288" width="3" height="38" fill="#ff4500"/>
<rect x="644" y="252" width="1" height="50" fill="#ff0000"/>
<rect x="642" y="282" width="5" height="7" fill="#ff0000"/>
<rect x="643" y="283" width="3" height="5" fill="#ff4500"/>
<rect x="652" y="278" width="1" height="31" fill="#32cd32"/>
<rect x="650" y="282" width="5" height="26" fill="#32cd32"/>
<rect x="660" y="311" width="1" height="13" fill="#32cd32"/>
<rect x="658" y="311" width="5" height="9" fill="#32cd32"/>
<rect x="668" y="312" width="1" height="29" fill="#32cd32"/>
<rect x="666" y="319" width="5" height="5" fill="#32cd32"/>
<rect x="676" y="294" width="1" height="37" fill="#ff0000"/>
<rect x="674" y="299" width="5" height="24" fill="#ff0000"/>
<rect x="675" y="300" width="3" height="22" fill="#ff4500"/>
<rect x="684" y="254" width="1" height="63" fill="#ff0000"/>
<rect x="682" y="259" width="5" height="41" fill="#ff0000"/>
<rect x="683" y="260" width="3" height="39" fill="#ff4500"/>
<rect x="692" y="234" width="1" height="36" fill="#ff0000"/>
<rect x="690" y="247" width="5" height="13" fill="#ff0000"/>
<rect x="691" y="248" width="3" height="11" fill="#ff4500"/>
<rect x="700" y="238" width="1" height="19" fill="#32cd32"/>
<rect x="698" y="247" width="5" height="3" fill="#32cd32"/>
<rect x="708" y="242" width="1" height="7" fill="#000"/>
<rect x="706" y="247" width="5" height="1" fill="#000"/>
<rect x="716" y="238" width="1" height="26" fill="#ff0000"/>
<rect x="714" y="244" width="5" height="4" fill="#ff0000"/>
<rect x="715" y="245" width="3" height="2" fill="#ff4500"/>
<rect x="724" y="227" width="1" height="29" fill="#32cd32"/>
<rect x="722" y="244" width="5" height="3" fill="#32cd32"/>
<rect x="732" y="221" width="1" height="38" fill="#ff0000"/>
<rect x="730" y="230" width="5" height="17" fill="#ff0000"/>
<rect x="731" y="231" width="3" height="15" fill="#ff4500"/>
<rect x="740" y="219" width="1" height="20" fill="#32cd32"/>
<rect x="738" y="230" width="5" height="6" fill="#32cd32"/>
<rect x="748" y="218" width="1" height="22" fill="#ff0000"/>
<rect x="746" y="222" width="5" height="14" fill="#ff0000"/>
<rect x="747" y="223" width="3" height="12" fill="#ff4500"/>
<rect x="756" y="219" width="1" height="6" fill="#ff0000"/>
<rect x="754" y="224" width="5" height="1" fill="#ff0000"/>
<rect x="764" y="218" width="1" height="60" fill="#32cd32"/>
<rect x="762" y="224" width="5" height="46" fill="#32cd32"/>
<rect x="772" y="236" width="1" height="41" fill="#ff0000"/>
<rect x="770" y="242" width="5" height="28" fill="#ff0000"/>
<rect x="771" y="243" width="3" height="26" fill="#ff4500"/>
<rect x="780" y="221" width="1" height="37" fill="#32cd32"/>
<rect x="778" y="242" width="5" height="12" fill="#32cd32"/>
<rect x="788" y="253" width="1" height="48" fill="#32cd32"/>
<rect x="786" y="254" width="5" height="37" fill="#32cd32"/>
<rect x="796" y="274" width="1" height="37" fill="#ff0000"/>
<rect x="794" y="276" width="5" height="15" fill="#ff0000"/>
<rect x="795" y="277" width="3" height="13" fill="#ff4500"/>
<rect x="804" y="276" width="1" height="9" fill="#ff0000"/>
<rect x="802" y="280" width="5" height="1" fill="#ff0000"/>
<rect x="812" y="264" width="1" height="35" fill="#ff0000"/>
<rect x="810" y="279" width="5" height="2" fill="#ff0000"/>
<rect x="820" y="258" width="1" height="38" fill="#ff0000"/>
<rect x="818" y="260" width="5" height="20" fill="#ff0000"/>
<rect x="819" y="261" width="3" height="18" fill="#ff4500"/>
<rect x="828" y="208" width="1" height="59" fill="#ff0000"/>
<rect x="826" y="215" width="5" height="46" fill="#ff0000"/>
<rect x="827" y="216" width="3" height="44" fill="#ff4500"/>
<rect x="836" y="195" width="1" height="26" fill="#ff0000"/>
<rect x="834" y="215" width="5" height="2" fill="#ff0000"/>
<rect x="844" y="208" width="1" height="60" fill="#32cd32"/>
<rect x="842" y="217" width="5" height="45" fill="#32cd32"/>
<rect x="852" y="255" width="1" height="8" fill="#ff0000"/>
<rect x="850" y="257" width="5" height="1" fill="#ff0000"/>
<rect x="860" y="248" width="1" height="22" fill="#32cd32"/>
<rect x="858" y="256" width="5" height="4" fill="#32cd32"/>
<rect x="868" y="249" width="1" height="37" fill="#32cd32"/>
<rect x="866" y="259" width="5" height="16" fill="#32cd32"/>
<rect x="876" y="242" width="1" height="40" fill="#ff0000"/>
<rect x="874" y="256" width="5" height="19" fill="#ff0000"/>
<rect x="875" y="257" width="3" height="17" fill="#ff4500"/>
<rect x="884" y="218" width="1" height="46" fill="#32cd32"/>
<rect x="882" y="256" width="5" height="1" fill="#32cd32"/>
<rect x="892" y="255" width="1" height="28" fill="#32cd32"/>
<rect x="890" y="256" width="5" height="26" fill="#32cd32"/>
<rect x="900" y="274" width="1" height="10" fill="#ff0000"/>
<rect x="898" y="274" width="5" height="9" fill="#ff0000"/>
<rect x="899" y="275" width="3" height="7" fill="#ff4500"/>
<rect x="908" y="274" width="1" height="62" fill="#32cd32"/>
<rect x="906" y="275" width="5" height="21" fill="#32cd32"/>
<rect x="916" y="281" width="1" height="23" fill="#32cd32"/>
<rect x="914" y="295" width="5" height="5" fill="#32cd32"/>
</g>
<g shape-rendering="crispEdges" fill="none" stroke="#000" stroke-width="1">
<rect x="3.5" y="24.5" width="1163" height="379"/>
<rect x="3.5" y="405.5" width="1163" height="69"/>
<rect x="3.5" y="476.5" width="1163" height="72"/>
</g>
<rect x="1167" y="37" width="2" height="1" fill="#000"/>
<text x="1172.2" y="41" font-size="9.4" fill="#000" textLength="33" lengthAdjust="spacingAndGlyphs" stroke="#000" stroke-width="0.15">0.75640</text>
<rect x="1167" y="70" width="2" height="1" fill="#000"/>
<text x="1172.2" y="74" font-size="9.4" fill="#000" textLength="33" lengthAdjust="spacingAndGlyphs" stroke="#000" stroke-width="0.15">0.75115</text>
<rect x="1167" y="103" width="2" height="1" fill="#000"/>
<text x="1172.2" y="107" font-size="9.4" fill="#000" textLength="33" lengthAdjust="spacingAndGlyphs" stroke="#000" stroke-width="0.15">0.74590</text>
<rect x="1167" y="136" width="2" height="1" fill="#000"/>
<text x="1172.2" y="140" font-size="9.4" fill="#000" textLength="33" lengthAdjust="spacingAndGlyphs" stroke="#000" stroke-width="0.15">0.74065</text>
<rect x="1167" y="169" width="2" height="1" fill="#000"/>
<text x="1172.2" y="173" font-size="9.4" fill="#000" textLength="33" lengthAdjust="spacingAndGlyphs" stroke="#000" stroke-width="0.15">0.73540</text>
<rect x="1167" y="202" width="2" height="1" fill="#000"/>
<text x="1172.2" y="206" font-size="9.4" fill="#000" textLength="33" lengthAdjust="spacingAndGlyphs" stroke="#000" stroke-width="0.15">0.73015</text>
<rect x="1167" y="235" width="2" height="1" fill="#000"/>
<text x="1172.2" y="239" font-size="9.4" fill="#000" textLength="33" lengthAdjust="spacingAndGlyphs" stroke="#000" stroke-width="0.15">0.72490</text>
<rect x="1167" y="268" width="2" height="1" fill="#000"/>
<text x="1172.2" y="272" font-size="9.4" fill="#000" textLength="33" lengthAdjust="spacingAndGlyphs" stroke="#000" stroke-width="0.15">0.71965</text>
<rect x="1167" y="301" width="2" height="1" fill="#000"/>
<text x="1172.2" y="305" font-size="9.4" fill="#000" textLength="33" lengthAdjust="spacingAndGlyphs" stroke="#000" stroke-width="0.15">0.71440</text>
<rect x="1167" y="334" width="2" height="1" fill="#000"/>
<text x="1172.2" y="338" font-size="9.4" fill="#000" textLength="33" lengthAdjust="spacingAndGlyphs" stroke="#000" stroke-width="0.15">0.70915</text>
<rect x="1167" y="367" width="2" height="1" fill="#000"/>
<text x="1172.2" y="371" font-size="9.4" fill="#000" textLength="33" lengthAdjust="spacingAndGlyphs" stroke="#000" stroke-width="0.15">0.70390</text>
<rect x="1167" y="400" width="2" height="1" fill="#000"/>
<text x="1172.2" y="404" font-size="9.4" fill="#000" textLength="33" lengthAdjust="spacingAndGlyphs" stroke="#000" stroke-width="0.15">0.69865</text>
<rect x="1168" y="39" width="38" height="11" fill="#ff0000"/>
<text x="1172.2" y="48" font-size="9.4" fill="#fff" textLength="33" lengthAdjust="spacingAndGlyphs" stroke="#fff" stroke-width="0.15">0.75512</text>
<rect x="1168" y="134" width="38" height="11" fill="#ff0000"/>
<text x="1172.2" y="143" font-size="9.4" fill="#fff" textLength="33" lengthAdjust="spacingAndGlyphs" stroke="#fff" stroke-width="0.15">0.74002</text>
<rect x="1168" y="234" width="38" height="11" fill="#00ff00"/>
<text x="1172.2" y="243" font-size="9.4" fill="#fff" textLength="33" lengthAdjust="spacingAndGlyphs" stroke="#fff" stroke-width="0.15">0.72412</text>
<rect x="1168" y="294" width="38" height="11" fill="#000"/>
<text x="1172.2" y="303" font-size="9.4" fill="#fff" textLength="33" lengthAdjust="spacingAndGlyphs" stroke="#fff" stroke-width="0.15">0.71463</text>
<rect x="1168" y="322" width="38" height="11" fill="#0000cd"/>
<text x="1172.2" y="331" font-size="9.4" fill="#fff" textLength="33" lengthAdjust="spacingAndGlyphs" stroke="#fff" stroke-width="0.15">0.71013</text>
<rect x="1168" y="393" width="38" height="11" fill="#0000ff"/>
<text x="1172.2" y="402" font-size="9.4" fill="#fff" textLength="33" lengthAdjust="spacingAndGlyphs" stroke="#fff" stroke-width="0.15">0.69884</text>
<path d="M7.5 35 L14 35 L10.75 31 Z" fill="#000"/>
<text x="19.9" y="35.7" font-size="9.4" fill="#000" textLength="66.8" lengthAdjust="spacingAndGlyphs" stroke="#000" stroke-width="0.15">AUDUSD-,Daily</text>
<text x="94.2" y="35.7" font-size="9.4" fill="#000" textLength="140.7" lengthAdjust="spacingAndGlyphs" stroke="#000" stroke-width="0.15">0.71535 0.71757 0.71411 0.71463</text>
<defs><linearGradient id="bg" x1="0" y1="44" x2="0" y2="101" gradientUnits="userSpaceOnUse"><stop offset="0" stop-color="#5555fa"/><stop offset="0.45" stop-color="#2a2ae6"/><stop offset="1" stop-color="#0000b8"/></linearGradient><linearGradient id="sp" x1="0" y1="0" x2="0" y2="1"><stop offset="0" stop-color="#eeeeee"/><stop offset="0.35" stop-color="#e6e6e6"/><stop offset="0.36" stop-color="#d9d9d9"/><stop offset="1" stop-color="#cdcdcd"/></linearGradient></defs>
<rect x="5" y="44" width="223" height="57" fill="#fff"/>
<rect x="4" y="44" width="1" height="1" fill="#fff"/>
<path d="M7.5 44.5 H58.5 V68.5 H115.5 V100.5 H7.5 Z" fill="url(#bg)" stroke="#0000b4" shape-rendering="crispEdges"/>
<path d="M174.5 44.5 H225.5 V100.5 H118.5 V68.5 H174.5 Z" fill="url(#bg)" stroke="#0000b4" shape-rendering="crispEdges"/>
<rect x="11" y="67" width="44" height="1" fill="#0a0ab0"/>
<rect x="11" y="68" width="44" height="1" fill="#7c7cf0"/>
<rect x="178" y="67" width="44" height="1" fill="#0a0ab0"/>
<rect x="178" y="68" width="44" height="1" fill="#7c7cf0"/>
<text x="19.4" y="59.9" font-size="12" fill="#fff" textLength="25.5" lengthAdjust="spacingAndGlyphs">SELL</text>
<text x="186.4" y="59.9" font-size="12" fill="#fff" textLength="25" lengthAdjust="spacingAndGlyphs">BUY</text>
<text x="27" y="96" font-size="12" fill="#fff" textLength="24.2" lengthAdjust="spacingAndGlyphs" font-weight="bold">0.71</text>
<text x="137" y="96" font-size="12" fill="#fff" textLength="24.2" lengthAdjust="spacingAndGlyphs" font-weight="bold">0.71</text>
<text x="53.5" y="96" font-size="34.5" fill="#fff" textLength="36.5" lengthAdjust="spacingAndGlyphs">46</text>
<text x="164" y="96" font-size="34.5" fill="#fff" textLength="37.6" lengthAdjust="spacingAndGlyphs">48</text>
<text x="95" y="79.8" font-size="10" fill="#fff" textLength="6" lengthAdjust="spacingAndGlyphs" font-weight="bold">3</text>
<text x="205" y="79.8" font-size="10" fill="#fff" textLength="6.8" lengthAdjust="spacingAndGlyphs" font-weight="bold">4</text>
<rect x="61.5" y="44.5" width="110" height="21" fill="#fff" stroke="#a8a8a8" shape-rendering="crispEdges"/>
<rect x="63" y="46" width="19" height="18" fill="url(#sp)"/>
<rect x="152" y="46" width="18" height="18" fill="url(#sp)"/>
<rect x="82" y="45" width="1" height="21" fill="#c0c0c0"/>
<rect x="151" y="45" width="1" height="21" fill="#c0c0c0"/>
<path d="M69 53.5 L74.5 53.5 L71.75 56.5 Z" fill="#3c4f9e"/>
<path d="M157.5 56.5 L163 56.5 L160.25 53.5 Z" fill="#3c4f9e"/>
<text x="123.2" y="58.6" font-size="12" fill="#000" textLength="23.5" lengthAdjust="spacingAndGlyphs">3.00</text>
<text x="8.3" y="417.8" font-size="9.4" fill="#000" textLength="150.4" lengthAdjust="spacingAndGlyphs" stroke="#000" stroke-width="0.15">MACD(12,26,9) -0.000893 0.000157</text>
<g shape-rendering="crispEdges">
<rect x="3" y="430" width="3" height="3" fill="#c0c0c0"/>
<rect x="11" y="430" width="3" height="3" fill="#c0c0c0"/>
<rect x="19" y="432" width="3" height="1" fill="#c0c0c0"/>
<rect x="27" y="433" width="3" height="3" fill="#c0c0c0"/>
<rect x="35" y="433" width="3" height="5" fill="#c0c0c0"/>
<rect x="43" y="433" width="3" height="7" fill="#c0c0c0"/>
<rect x="51" y="433" width="3" height="10" fill="#c0c0c0"/>
<rect x="59" y="433" width="3" height="12" fill="#c0c0c0"/>
<rect x="67" y="433" width="3" height="11" fill="#c0c0c0"/>
<rect x="75" y="433" width="3" height="11" fill="#c0c0c0"/>
<rect x="83" y="433" width="3" height="11" fill="#c0c0c0"/>
<rect x="91" y="433" width="3" height="10" fill="#c0c0c0"/>
<rect x="99" y="433" width="3" height="11" fill="#c0c0c0"/>
<rect x="107" y="433" width="3" height="14" fill="#c0c0c0"/>
<rect x="115" y="433" width="3" height="14" fill="#c0c0c0"/>
<rect x="123" y="433" width="3" height="12" fill="#c0c0c0"/>
<rect x="131" y="433" width="3" height="12" fill="#c0c0c0"/>
<rect x="139" y="433" width="3" height="10" fill="#c0c0c0"/>
<rect x="147" y="433" width="3" height="7" fill="#c0c0c0"/>
<rect x="155" y="433" width="3" height="7" fill="#c0c0c0"/>
<rect x="163" y="433" width="3" height="5" fill="#c0c0c0"/>
<rect x="171" y="433" width="3" height="3" fill="#c0c0c0"/>
<rect x="179" y="433" width="3" height="2" fill="#c0c0c0"/>
<rect x="187" y="433" width="3" height="1" fill="#c0c0c0"/>
<rect x="195" y="431" width="3" height="2" fill="#c0c0c0"/>
<rect x="203" y="429" width="3" height="4" fill="#c0c0c0"/>
<rect x="211" y="426" width="3" height="7" fill="#c0c0c0"/>
<rect x="219" y="423" width="3" height="10" fill="#c0c0c0"/>
<rect x="227" y="421" width="3" height="12" fill="#c0c0c0"/>
<rect x="235" y="420" width="3" height="13" fill="#c0c0c0"/>
<rect x="243" y="417" width="3" height="16" fill="#c0c0c0"/>
<rect x="251" y="414" width="3" height="19" fill="#c0c0c0"/>
<rect x="259" y="413" width="3" height="20" fill="#c0c0c0"/>
<rect x="267" y="413" width="3" height="20" fill="#c0c0c0"/>
<rect x="275" y="412" width="3" height="21" fill="#c0c0c0"/>
<rect x="283" y="412" width="3" height="21" fill="#c0c0c0"/>
<rect x="291" y="411" width="3" height="22" fill="#c0c0c0"/>
<rect x="299" y="411" width="3" height="22" fill="#c0c0c0"/>
<rect x="307" y="410" width="3" height="23" fill="#c0c0c0"/>
<rect x="315" y="410" width="3" height="23" fill="#c0c0c0"/>
<rect x="323" y="410" width="3" height="23" fill="#c0c0c0"/>
<rect x="331" y="410" width="3" height="23" fill="#c0c0c0"/>
<rect x="339" y="414" width="3" height="19" fill="#c0c0c0"/>
<rect x="347" y="416" width="3" height="17" fill="#c0c0c0"/>
<rect x="355" y="420" width="3" height="13" fill="#c0c0c0"/>
<rect x="363" y="423" width="3" height="10" fill="#c0c0c0"/>
<rect x="371" y="426" width="3" height="7" fill="#c0c0c0"/>
<rect x="379" y="428" width="3" height="5" fill="#c0c0c0"/>
<rect x="387" y="431" width="3" height="2" fill="#c0c0c0"/>
<rect x="395" y="433" width="3" height="2" fill="#c0c0c0"/>
<rect x="403" y="433" width="3" height="6" fill="#c0c0c0"/>
<rect x="411" y="433" width="3" height="8" fill="#c0c0c0"/>
<rect x="419" y="433" width="3" height="10" fill="#c0c0c0"/>
<rect x="427" y="433" width="3" height="10" fill="#c0c0c0"/>
<rect x="435" y="433" width="3" height="12" fill="#c0c0c0"/>
<rect x="443" y="433" width="3" height="15" fill="#c0c0c0"/>
<rect x="451" y="433" width="3" height="16" fill="#c0c0c0"/>
<rect x="459" y="433" width="3" height="19" fill="#c0c0c0"/>
<rect x="467" y="433" width="3" height="20" fill="#c0c0c0"/>
<rect x="475" y="433" width="3" height="22" fill="#c0c0c0"/>
<rect x="483" y="433" width="3" height="23" fill="#c0c0c0"/>
<rect x="491" y="433" width="3" height="24" fill="#c0c0c0"/>
<rect x="499" y="433" width="3" height="26" fill="#c0c0c0"/>
<rect x="507" y="433" width="3" height="29" fill="#c0c0c0"/>
<rect x="515" y="433" width="3" height="30" fill="#c0c0c0"/>
<rect x="523" y="433" width="3" height="31" fill="#c0c0c0"/>
<rect x="531" y="433" width="3" height="31" fill="#c0c0c0"/>
<rect x="539" y="433" width="3" height="32" fill="#c0c0c0"/>
<rect x="547" y="433" width="3" height="33" fill="#c0c0c0"/>
<rect x="555" y="433" width="3" height="37" fill="#c0c0c0"/>
<rect x="563" y="433" width="3" height="38" fill="#c0c0c0"/>
<rect x="571" y="433" width="3" height="38" fill="#c0c0c0"/>
<rect x="579" y="433" width="3" height="35" fill="#c0c0c0"/>
<rect x="587" y="433" width="3" height="31" fill="#c0c0c0"/>
<rect x="595" y="433" width="3" height="28" fill="#c0c0c0"/>
<rect x="603" y="433" width="3" height="24" fill="#c0c0c0"/>
<rect x="611" y="433" width="3" height="21" fill="#c0c0c0"/>
<rect x="619" y="433" width="3" height="20" fill="#c0c0c0"/>
<rect x="627" y="433" width="3" height="20" fill="#c0c0c0"/>
<rect x="635" y="433" width="3" height="17" fill="#c0c0c0"/>
<rect x="643" y="433" width="3" height="15" fill="#c0c0c0"/>
<rect x="651" y="433" width="3" height="14" fill="#c0c0c0"/>
<rect x="659" y="433" width="3" height="14" fill="#c0c0c0"/>
<rect x="667" y="433" width="3" height="14" fill="#c0c0c0"/>
<rect x="675" y="433" width="3" height="13" fill="#c0c0c0"/>
<rect x="683" y="433" width="3" height="9" fill="#c0c0c0"/>
<rect x="691" y="433" width="3" height="6" fill="#c0c0c0"/>
<rect x="699" y="433" width="3" height="3" fill="#c0c0c0"/>
<rect x="707" y="433" width="3" height="1" fill="#c0c0c0"/>
<rect x="715" y="431" width="3" height="2" fill="#c0c0c0"/>
<rect x="723" y="430" width="3" height="3" fill="#c0c0c0"/>
<rect x="731" y="428" width="3" height="5" fill="#c0c0c0"/>
<rect x="739" y="427" width="3" height="6" fill="#c0c0c0"/>
<rect x="747" y="425" width="3" height="8" fill="#c0c0c0"/>
<rect x="755" y="424" width="3" height="9" fill="#c0c0c0"/>
<rect x="763" y="426" width="3" height="7" fill="#c0c0c0"/>
<rect x="771" y="426" width="3" height="7" fill="#c0c0c0"/>
<rect x="779" y="428" width="3" height="5" fill="#c0c0c0"/>
<rect x="787" y="429" width="3" height="4" fill="#c0c0c0"/>
<rect x="795" y="431" width="3" height="2" fill="#c0c0c0"/>
<rect x="803" y="432" width="3" height="1" fill="#c0c0c0"/>
<rect x="811" y="433" width="3" height="1" fill="#c0c0c0"/>
<rect x="819" y="433" width="3" height="1" fill="#c0c0c0"/>
<rect x="827" y="430" width="3" height="3" fill="#c0c0c0"/>
<rect x="835" y="428" width="3" height="5" fill="#c0c0c0"/>
<rect x="843" y="429" width="3" height="4" fill="#c0c0c0"/>
<rect x="851" y="430" width="3" height="3" fill="#c0c0c0"/>
<rect x="859" y="430" width="3" height="3" fill="#c0c0c0"/>
<rect x="867" y="431" width="3" height="2" fill="#c0c0c0"/>
<rect x="875" y="431" width="3" height="2" fill="#c0c0c0"/>
<rect x="883" y="432" width="3" height="1" fill="#c0c0c0"/>
<rect x="891" y="433" width="3" height="1" fill="#c0c0c0"/>
<rect x="899" y="433" width="3" height="2" fill="#c0c0c0"/>
<rect x="907" y="433" width="3" height="4" fill="#c0c0c0"/>
<rect x="915" y="433" width="3" height="5" fill="#c0c0c0"/>
</g>
<path d="M4 426h12v1h-12zM16 427h6v1h-6zM22 428h4v1h-4zM26 429h6v1h-6zM32 430h6v1h-6zM38 431h4v1h-4zM42 432h6v1h-6zM48 433h6v1h-6zM54 434h4v1h-4zM58 435h4v1h-4zM62 436h4v1h-4zM66 437h6v1h-6zM72 438h6v1h-6zM78 439h4v1h-4zM82 440h6v1h-6zM88 441h8v1h-8zM96 442h8v1h-8zM104 443h16v1h-16zM120 444h24v1h-24zM144 443h16v1h-16zM160 442h8v1h-8zM168 441h8v1h-8zM176 440h6v1h-6zM182 439h4v1h-4zM186 438h6v1h-6zM192 437h6v1h-6zM198 436h4v1h-4zM202 435h6v1h-6zM208 434h6v1h-6zM214 433h4v1h-4zM218 432h4v1h-4zM222 431h4v1h-4zM226 430h4v1h-4zM230 429h4v1h-4zM234 428h4v1h-4zM238 427h4v1h-4zM242 426h4v1h-4zM246 425h2v1h-2zM248 424h3v1h-3zM251 423h3v1h-3zM254 422h4v1h-4zM258 421h4v1h-4zM262 420h4v1h-4zM266 419h6v1h-6zM272 418h6v1h-6zM278 417h4v1h-4zM282 416h6v1h-6zM288 415h6v1h-6zM294 414h4v1h-4zM298 413h6v1h-6zM304 412h8v1h-8zM312 411h8v1h-8zM320 410h30v1h-30zM350 411h4v1h-4zM354 412h4v1h-4zM358 413h4v1h-4zM362 414h6v1h-6zM368 415h6v1h-6zM374 416h4v1h-4zM378 417h4v1h-4zM382 418h2v1h-2zM384 419h3v1h-3zM387 420h3v1h-3zM390 421h4v1h-4zM394 422h4v1h-4zM398 423h2v1h-2zM400 424h3v1h-3zM403 425h3v1h-3zM406 426h2v1h-2zM408 427h3v1h-3zM411 428h3v1h-3zM414 429h2v1h-2zM416 430h3v1h-3zM419 431h3v1h-3zM422 432h4v1h-4zM426 433h4v1h-4zM430 434h2v1h-2zM432 435h3v1h-3zM435 436h3v1h-3zM438 437h4v1h-4zM442 438h4v1h-4zM446 439h2v1h-2zM448 440h3v1h-3zM451 441h3v1h-3zM454 442h4v1h-4zM458 443h4v1h-4zM462 444h4v1h-4zM466 445h6v1h-6zM472 446h6v1h-6zM478 447h4v1h-4zM482 448h4v1h-4zM486 449h4v1h-4zM490 450h6v1h-6zM496 451h6v1h-6zM502 452h4v1h-4zM506 453h4v1h-4zM510 454h4v1h-4zM514 455h6v1h-6zM520 456h6v1h-6zM526 457h4v1h-4zM530 458h6v1h-6zM536 459h6v1h-6zM542 460h4v1h-4zM546 461h6v1h-6zM552 462h6v1h-6zM558 463h4v1h-4zM562 464h6v1h-6zM568 465h8v1h-8zM576 466h24v1h-24zM600 465h8v1h-8zM608 464h6v1h-6zM614 463h4v1h-4zM618 462h4v1h-4zM622 461h4v1h-4zM626 460h4v1h-4zM630 459h2v1h-2zM632 458h3v1h-3zM635 457h3v1h-3zM638 456h4v1h-4zM642 455h4v1h-4zM646 454h4v1h-4zM650 453h4v1h-4zM654 452h4v1h-4zM658 451h4v1h-4zM662 450h4v1h-4zM666 449h6v1h-6zM672 448h6v1h-6zM678 447h4v1h-4zM682 446h6v1h-6zM688 445h8v1h-8zM696 444h6v1h-6zM702 443h4v1h-4zM706 442h4v1h-4zM710 441h4v1h-4zM714 440h4v1h-4zM718 439h4v1h-4zM722 438h4v1h-4zM726 437h4v1h-4zM730 436h4v1h-4zM734 435h4v1h-4zM738 434h4v1h-4zM742 433h4v1h-4zM746 432h4v1h-4zM750 431h4v1h-4zM754 430h6v1h-6zM760 429h8v1h-8zM768 428h8v1h-8zM776 427h32v1h-32zM808 428h8v1h-8zM816 429h8v1h-8zM824 430h32v1h-32zM856 431h24v1h-24zM880 430h8v1h-8zM888 431h16v1h-16zM904 432h8v1h-8zM912 433h5v1h-5z" fill="#ff0000" shape-rendering="crispEdges"/>
<text x="1170.4" y="416.3" font-size="9.4" fill="#000" textLength="37" lengthAdjust="spacingAndGlyphs" stroke="#000" stroke-width="0.15">0.006201</text>
<text x="1170.4" y="437" font-size="9.4" fill="#000" textLength="17" lengthAdjust="spacingAndGlyphs" stroke="#000" stroke-width="0.15">0.00</text>
<text x="1170.4" y="471" font-size="9.4" fill="#000" textLength="36" lengthAdjust="spacingAndGlyphs" stroke="#000" stroke-width="0.15">-0.00919</text>
<rect x="1167" y="407" width="1" height="1" fill="#000"/>
<rect x="1167" y="433" width="1" height="1" fill="#000"/>
<rect x="1167" y="473" width="1" height="1" fill="#000"/>
<text x="8.3" y="489" font-size="9.4" fill="#000" textLength="67.5" lengthAdjust="spacingAndGlyphs" stroke="#000" stroke-width="0.15">RSI(14) 41.5878</text>
<g shape-rendering="crispEdges">
<line x1="5" y1="498.5" x2="1166" y2="498.5" stroke="#c0c0c0" stroke-dasharray="3,3"/>
<line x1="5" y1="526.5" x2="1166" y2="526.5" stroke="#c0c0c0" stroke-dasharray="3,3"/>
</g>
<path d="M4 516h1v1h-1zM5 515h2v1h-2zM7 514h2v1h-2zM9 513h2v1h-2zM11 512h2v1h-2zM13 513h2v1h-2zM15 514h1v1h-1zM16 515h2v1h-2zM18 516h2v1h-2zM20 517h4v1h-4zM24 518h6v1h-6zM30 519h4v1h-4zM34 520h12v1h-12zM46 521h4v1h-4zM50 522h11v1h-11zM61 521h1v1h-1zM62 520h1v1h-1zM63 519h1v1h-1zM64 518h1v1h-1zM65 517h1v1h-1zM66 516h1v1h-1zM67 515h1v1h-1zM68 514h1v1h-1zM69 515h2v1h-2zM71 516h2v1h-2zM73 517h2v1h-2zM75 518h3v1h-3zM78 517h4v1h-4zM82 516h4v1h-4zM86 515h4v1h-4zM90 514h3v1h-3zM93 515h2v1h-2zM95 516h2v1h-2zM97 517h2v1h-2zM99 518h2v1h-2zM101 519h2v1h-2zM103 520h1v1h-1zM104 521h2v1h-2zM106 522h2v1h-2zM108 523h1v1h-1zM109 522h2v1h-2zM111 521h1v1h-1zM112 520h2v1h-2zM114 519h2v1h-2zM116 518h1v1h-1zM117 517h2v1h-2zM119 516h2v1h-2zM121 515h2v1h-2zM123 514h3v1h-3zM126 513h4v1h-4zM130 512h22v1h-22zM152 513h5v1h-5zM157 512h2v1h-2zM159 511h1v1h-1zM160 510h2v1h-2zM162 509h2v1h-2zM164 508h2v1h-2zM166 509h4v1h-4zM170 510h4v1h-4zM174 511h4v1h-4zM178 512h3v1h-3zM181 511h2v1h-2zM183 510h1v1h-1zM184 509h2v1h-2zM186 508h2v1h-2zM188 507h2v1h-2zM190 508h4v1h-4zM194 509h3v1h-3zM197 508h2v1h-2zM199 507h1v1h-1zM200 506h2v1h-2zM202 505h2v1h-2zM204 504h2v1h-2zM206 503h4v1h-4zM210 502h14v1h-14zM224 501h6v1h-6zM230 502h4v1h-4zM234 503h3v1h-3zM237 502h2v1h-2zM239 501h2v1h-2zM241 500h2v1h-2zM243 499h3v1h-3zM246 498h2v1h-2zM248 497h3v1h-3zM251 496h2v1h-2zM253 497h1v1h-1zM254 498h1v1h-1zM255 499h1v1h-1zM256 500h2v1h-2zM258 501h1v1h-1zM259 502h1v1h-1zM260 503h18v1h-18zM278 502h2v1h-2zM280 501h3v1h-3zM283 500h5v1h-5zM288 499h6v1h-6zM294 500h4v1h-4zM298 501h4v1h-4zM302 500h4v1h-4zM306 499h6v1h-6zM312 500h8v1h-8zM320 501h13v1h-13zM333 502h1v2h-1zM334 504h1v1h-1zM335 505h1v1h-1zM336 506h1v2h-1zM337 508h1v1h-1zM338 509h1v1h-1zM339 510h1v2h-1zM340 512h2v1h-2zM342 511h2v1h-2zM344 510h3v1h-3zM347 509h2v1h-2zM349 510h1v1h-1zM350 511h2v1h-2zM352 512h1v1h-1zM353 513h1v1h-1zM354 514h2v1h-2zM356 515h4v1h-4zM360 516h14v1h-14zM374 515h4v1h-4zM378 514h3v1h-3zM381 515h2v1h-2zM383 516h2v1h-2zM385 517h2v1h-2zM387 518h3v1h-3zM390 519h2v1h-2zM392 520h3v1h-3zM395 521h3v1h-3zM398 522h2v1h-2zM400 523h3v1h-3zM403 524h2v1h-2zM405 523h2v1h-2zM407 522h1v1h-1zM408 521h2v1h-2zM410 520h2v1h-2zM412 519h12v1h-12zM424 518h6v1h-6zM430 519h2v1h-2zM432 520h3v1h-3zM435 521h3v1h-3zM438 522h4v1h-4zM442 523h6v1h-6zM448 522h6v1h-6zM454 523h2v1h-2zM456 524h3v1h-3zM459 525h21v1h-21zM480 526h8v1h-8zM488 527h6v1h-6zM494 528h4v1h-4zM498 529h4v1h-4zM502 530h2v1h-2zM504 531h3v1h-3zM507 532h2v1h-2zM509 531h2v1h-2zM511 530h2v1h-2zM513 529h2v1h-2zM515 528h13v1h-13zM528 529h8v1h-8zM536 530h8v1h-8zM544 531h5v1h-5zM549 532h2v1h-2zM551 533h2v1h-2zM553 534h2v1h-2zM555 535h3v1h-3zM558 534h2v1h-2zM560 533h3v1h-3zM563 532h2v1h-2zM565 531h2v1h-2zM567 530h1v1h-1zM568 529h2v1h-2zM570 528h2v1h-2zM572 527h1v1h-1zM573 526h1v1h-1zM574 525h1v1h-1zM575 524h1v1h-1zM576 523h1v1h-1zM577 522h1v1h-1zM578 521h1v1h-1zM579 520h1v1h-1zM580 519h1v1h-1zM581 518h2v1h-2zM583 517h2v1h-2zM585 516h2v1h-2zM587 515h5v1h-5zM592 516h6v1h-6zM598 515h4v1h-4zM602 514h12v1h-12zM614 515h2v1h-2zM616 516h3v1h-3zM619 517h3v1h-3zM622 518h4v1h-4zM626 519h3v1h-3zM629 518h1v1h-1zM630 517h2v1h-2zM632 516h1v1h-1zM633 515h1v1h-1zM634 514h2v1h-2zM636 513h10v1h-10zM646 514h2v1h-2zM648 515h3v1h-3zM651 516h5v1h-5zM656 517h8v1h-8zM664 518h5v1h-5zM669 517h2v1h-2zM671 516h2v1h-2zM673 515h2v1h-2zM675 514h2v1h-2zM677 513h2v1h-2zM679 512h2v1h-2zM681 511h2v1h-2zM683 510h3v1h-3zM686 509h2v1h-2zM688 508h3v1h-3zM691 507h5v1h-5zM696 508h8v1h-8zM704 507h22v1h-22zM726 506h4v1h-4zM730 505h6v1h-6zM736 506h6v1h-6zM742 505h4v1h-4zM746 504h6v1h-6zM752 505h5v1h-5zM757 506h1v1h-1zM758 507h1v1h-1zM759 508h1v1h-1zM760 509h1v2h-1zM761 511h1v1h-1zM762 512h1v1h-1zM763 513h1v1h-1zM764 514h1v1h-1zM765 513h2v1h-2zM767 512h1v1h-1zM768 511h2v1h-2zM770 510h2v1h-2zM772 509h2v1h-2zM774 510h4v1h-4zM778 511h3v1h-3zM781 512h1v1h-1zM782 513h2v1h-2zM784 514h1v1h-1zM785 515h1v1h-1zM786 516h2v1h-2zM788 517h2v1h-2zM790 516h2v1h-2zM792 515h3v1h-3zM795 514h5v1h-5zM800 515h14v1h-14zM814 514h2v1h-2zM816 513h3v1h-3zM819 512h2v1h-2zM821 511h1v1h-1zM822 510h1v1h-1zM823 509h1v1h-1zM824 508h2v1h-2zM826 507h1v1h-1zM827 506h1v1h-1zM828 505h9v1h-9zM837 506h1v1h-1zM838 507h1v1h-1zM839 508h1v1h-1zM840 509h1v1h-1zM841 510h1v1h-1zM842 511h1v1h-1zM843 512h1v1h-1zM844 513h4v1h-4zM848 512h8v1h-8zM856 513h6v1h-6zM862 514h4v1h-4zM866 515h4v1h-4zM870 514h2v1h-2zM872 513h3v1h-3zM875 512h10v1h-10zM885 513h2v1h-2zM887 514h2v1h-2zM889 515h2v1h-2zM891 516h5v1h-5zM896 515h6v1h-6zM902 516h2v1h-2zM904 517h3v1h-3zM907 518h10v1h-10z" fill="#1e90ff" shape-rendering="crispEdges"/>
<text x="1170.4" y="487" font-size="9.4" fill="#000" textLength="14.5" lengthAdjust="spacingAndGlyphs" stroke="#000" stroke-width="0.15">100</text>
<text x="1170.4" y="502" font-size="9.4" fill="#000" textLength="9.5" lengthAdjust="spacingAndGlyphs" stroke="#000" stroke-width="0.15">70</text>
<text x="1170.4" y="530" font-size="9.4" fill="#000" textLength="9.5" lengthAdjust="spacingAndGlyphs" stroke="#000" stroke-width="0.15">30</text>
<text x="1170.4" y="545" font-size="9.4" fill="#000" textLength="5" lengthAdjust="spacingAndGlyphs" stroke="#000" stroke-width="0.15">0</text>
<rect x="1167" y="478" width="1" height="1" fill="#000"/>
<rect x="1167" y="498" width="1" height="1" fill="#000"/>
<rect x="1167" y="526" width="1" height="1" fill="#000"/>
<rect x="1167" y="547" width="1" height="1" fill="#000"/>
<rect x="4" y="549" width="1" height="3" fill="#000"/>
<text x="3.3" y="561" font-size="9.4" fill="#000" textLength="51" lengthAdjust="spacingAndGlyphs" stroke="#000" stroke-width="0.15">14 Sep 2021</text>
<rect x="68" y="549" width="1" height="3" fill="#000"/>
<text x="67.3" y="561" font-size="9.4" fill="#000" textLength="51" lengthAdjust="spacingAndGlyphs" stroke="#000" stroke-width="0.15">23 Sep 2021</text>
<rect x="132" y="549" width="1" height="3" fill="#000"/>
<text x="131.3" y="561" font-size="9.4" fill="#000" textLength="45.4" lengthAdjust="spacingAndGlyphs" stroke="#000" stroke-width="0.15">3 Oct 2021</text>
<rect x="196" y="549" width="1" height="3" fill="#000"/>
<text x="195.3" y="561" font-size="9.4" fill="#000" textLength="49.8" lengthAdjust="spacingAndGlyphs" stroke="#000" stroke-width="0.15">12 Oct 2021</text>
<rect x="260" y="549" width="1" height="3" fill="#000"/>
<text x="259.3" y="561" font-size="9.4" fill="#000" textLength="49.8" lengthAdjust="spacingAndGlyphs" stroke="#000" stroke-width="0.15">21 Oct 2021</text>
<rect x="324" y="549" width="1" height="3" fill="#000"/>
<text x="323.3" y="561" font-size="9.4" fill="#000" textLength="49.8" lengthAdjust="spacingAndGlyphs" stroke="#000" stroke-width="0.15">31 Oct 2021</text>
<rect x="388" y="549" width="1" height="3" fill="#000"/>
<text x="387.3" y="561" font-size="9.4" fill="#000" textLength="48" lengthAdjust="spacingAndGlyphs" stroke="#000" stroke-width="0.15">9 Nov 2021</text>
<rect x="452" y="549" width="1" height="3" fill="#000"/>
<text x="451.3" y="561" font-size="9.4" fill="#000" textLength="53.2" lengthAdjust="spacingAndGlyphs" stroke="#000" stroke-width="0.15">18 Nov 2021</text>
<rect x="516" y="549" width="1" height="3" fill="#000"/>
<text x="515.3" y="561" font-size="9.4" fill="#000" textLength="53.2" lengthAdjust="spacingAndGlyphs" stroke="#000" stroke-width="0.15">28 Nov 2021</text>
<rect x="580" y="549" width="1" height="3" fill="#000"/>
<text x="579.3" y="561" font-size="9.4" fill="#000" textLength="45.8" lengthAdjust="spacingAndGlyphs" stroke="#000" stroke-width="0.15">7 Dec 2021</text>
<rect x="644" y="549" width="1" height="3" fill="#000"/>
<text x="643.3" y="561" font-size="9.4" fill="#000" textLength="50.8" lengthAdjust="spacingAndGlyphs" stroke="#000" stroke-width="0.15">16 Dec 2021</text>
<rect x="708" y="549" width="1" height="3" fill="#000"/>
<text x="707.3" y="561" font-size="9.4" fill="#000" textLength="50.8" lengthAdjust="spacingAndGlyphs" stroke="#000" stroke-width="0.15">26 Dec 2021</text>
<rect x="772" y="549" width="1" height="3" fill="#000"/>
<text x="771.3" y="561" font-size="9.4" fill="#000" textLength="44.3" lengthAdjust="spacingAndGlyphs" stroke="#000" stroke-width="0.15">4 Jan 2022</text>
<rect x="836" y="549" width="1" height="3" fill="#000"/>
<text x="835.3" y="561" font-size="9.4" fill="#000" textLength="49" lengthAdjust="spacingAndGlyphs" stroke="#000" stroke-width="0.15">13 Jan 2022</text>
<rect x="900" y="549" width="1" height="3" fill="#000"/>
<text x="899.3" y="561" font-size="9.4" fill="#000" textLength="49" lengthAdjust="spacingAndGlyphs" stroke="#000" stroke-width="0.15">23 Jan 2022</text>
<rect x="0" y="569" width="1206" height="2" fill="#e8e8e8"/>
<rect x="0" y="571" width="1206" height="1" fill="#000"/>
<rect x="0" y="572" width="1206" height="18" fill="#f0f0f0"/>
<rect x="0" y="590" width="1206" height="1" fill="#fafafa"/>
<rect x="0" y="591" width="1206" height="4" fill="#f0f0f0"/>
<rect x="0" y="572" width="1" height="18" fill="#505050"/>
<rect x="214" y="571" width="106" height="18" fill="#fff"/>
<rect x="213" y="571" width="1" height="19" fill="#000"/>
<rect x="320" y="571" width="1" height="19" fill="#000"/>
<rect x="213" y="589" width="108" height="1" fill="#000"/>
<text x="16.6" y="585.8" font-size="12" fill="#7a7a7a" textLength="76.9" lengthAdjust="spacingAndGlyphs">USDX,Weekly</text>
<text x="116.2" y="585.8" font-size="12" fill="#7a7a7a" textLength="84.5" lengthAdjust="spacingAndGlyphs">EURUSD-,Daily</text>
<text x="223.6" y="585.8" font-size="12" fill="#000" textLength="86.6" lengthAdjust="spacingAndGlyphs">AUDUSD-,Daily</text>
<text x="333.2" y="585.8" font-size="12" fill="#7a7a7a" textLength="72.3" lengthAdjust="spacingAndGlyphs">USDCHF-,H4</text>
<text x="428.4" y="585.8" font-size="12" fill="#7a7a7a" textLength="85.5" lengthAdjust="spacingAndGlyphs">USDCAD-,Daily</text>
<text x="537.1" y="585.8" font-size="12" fill="#7a7a7a" textLength="87.3" lengthAdjust="spacingAndGlyphs">USDCNH-,Daily</text>
<text x="648.3" y="585.8" font-size="12" fill="#7a7a7a" textLength="73.0" lengthAdjust="spacingAndGlyphs">XAUUSD-,H1</text>
<text x="744.5" y="585.8" font-size="12" fill="#7a7a7a" textLength="68.0" lengthAdjust="spacingAndGlyphs">UKOil-,Daily</text>
<text x="837.3" y="585.8" font-size="12" fill="#7a7a7a" textLength="63.7" lengthAdjust="spacingAndGlyphs">DJ30-,Daily</text>
<text x="924.6" y="585.8" font-size="12" fill="#7a7a7a" textLength="61.0" lengthAdjust="spacingAndGlyphs">UK100-,H1</text>
<rect x="105" y="574" width="1" height="14" fill="#808080"/>
<rect x="416" y="574" width="1" height="14" fill="#808080"/>
<rect x="525" y="574" width="1" height="14" fill="#808080"/>
<rect x="636" y="574" width="1" height="14" fill="#808080"/>
<rect x="733" y="574" width="1" height="14" fill="#808080"/>
<rect x="825" y="574" width="1" height="14" fill="#808080"/>
<rect x="913" y="574" width="1" height="14" fill="#808080"/>
<rect x="997" y="574" width="1" height="14" fill="#808080"/>
<path d="M1185.3 577.2 L1185.3 583 L1181.6 580.1 Z" fill="#a0a0a0"/>
<path d="M1200.7 577.2 L1200.7 583 L1204.2 580.1 Z" fill="#a0a0a0"/></svg>
</body></html>
